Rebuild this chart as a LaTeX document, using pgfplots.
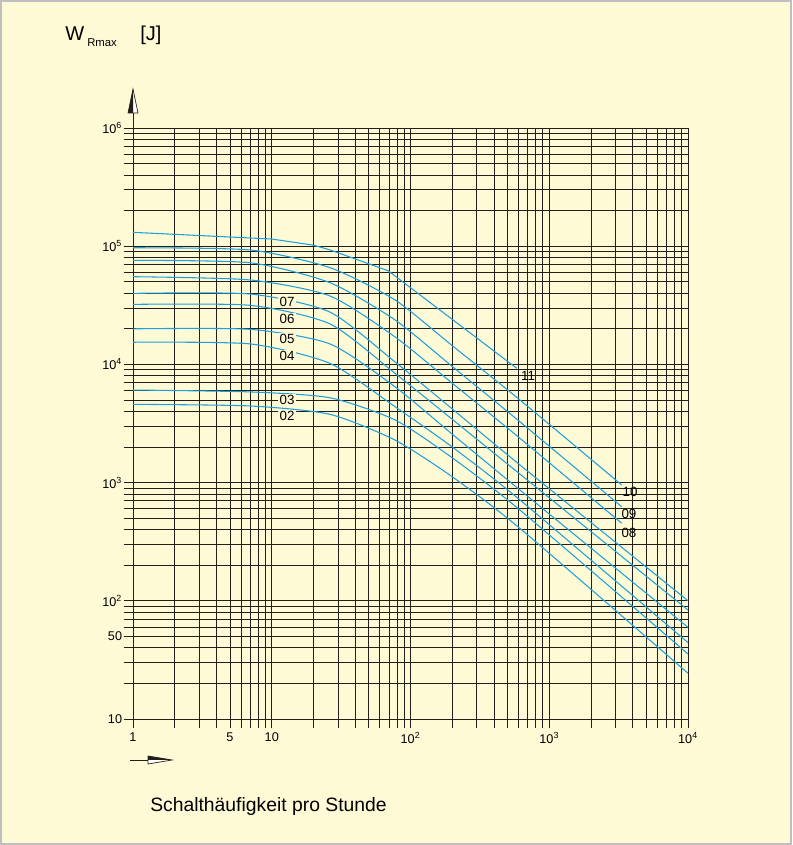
\documentclass[border=0pt]{standalone}
\usepackage{pgfplots}
\pgfplotsset{compat=1.18}
\usepackage{fontspec}
\setmainfont{Liberation Sans}
\definecolor{bg}{RGB}{255,250,214}
\definecolor{curve}{RGB}{30,160,222}
\definecolor{gridc}{RGB}{35,30,25}
\begin{document}
\begin{tikzpicture}[x=0.75pt,y=0.75pt]
\path[use as bounding box] (0,0) rectangle (792,845);
\fill[bg] (0,0) rectangle (792,845);
\draw[black!25, line width=1.5pt] (1,1) rectangle (791,844);
\begin{axis}[
  at={(99.75pt,94.5pt)}, anchor=south west,
  scale only axis, width=416.25pt, height=443.25pt,
  xmode=log, ymode=log, log basis x=10, log basis y=10,
  xmin=1, xmax=10000, ymin=10, ymax=1000000,
  xtick={1,5,10,100,1000,10000},
  xticklabels={1,5,10,10\textsuperscript{2},10\textsuperscript{3},10\textsuperscript{4}},
  minor xtick={2,3,4,6,7,8,9,20,30,40,50,60,70,80,90,200,300,400,500,600,700,800,900,2000,3000,4000,5000,6000,7000,8000,9000},
  ytick={10,50,100,1000,10000,100000,1000000},
  yticklabels={10,50,10\textsuperscript{2},10\textsuperscript{3},10\textsuperscript{4},10\textsuperscript{5},10\textsuperscript{6}},
  minor ytick={20,30,40,60,70,80,90,200,300,400,500,600,700,800,900,2000,3000,4000,5000,6000,7000,8000,9000,20000,30000,40000,50000,60000,70000,80000,90000,200000,300000,400000,500000,600000,700000,800000,900000},
  grid=both,
  major grid style={gridc, line width=0.65pt},
  minor grid style={gridc, line width=0.65pt},
  axis line style={gridc, line width=0.7pt},
  tick style={gridc, line width=0.65pt},
  tick align=outside, tick pos=left,
  major tick length=7pt, minor tick length=7pt,
  ticklabel style={font=\fontsize{9.5}{11}\selectfont, inner sep=1pt},
  xticklabel style={yshift=-2pt},
  clip=false,
]
\addplot[curve, line width=0.8pt] coordinates {(1,131000) (10,115000) (20,102000) (26.3,93000) (69,62000) (583,9270)};
\addplot[curve, line width=0.8pt, smooth, tension=0.4] coordinates {(1,97000) (7,92900) (26.3,65800) (77.3,35100) (200,14400) (615,5000) (3327,955)};
\addplot[curve, line width=0.8pt, smooth, tension=0.4] coordinates {(1,75900) (7,72400) (26.3,49100) (77.3,23800) (200,9600) (615,3270) (3327,625)};
\addplot[curve, line width=0.8pt, smooth, tension=0.4] coordinates {(1,55200) (7,51800) (26.3,37900) (77.3,17100) (200,6930) (615,2370) (3327,453)};
\addplot[curve, line width=0.8pt, smooth, tension=0.4] coordinates {(1,39900) (7,39400) (26.3,27700) (77.3,10500) (200,4200) (615,1410) (10000,100)};
\addplot[curve, line width=0.8pt, smooth, tension=0.4] coordinates {(1,32200) (7,31600) (26.3,22000) (77.3,8410) (200,3430) (615,1180) (10000,83.6)};
\addplot[curve, line width=0.8pt, smooth, tension=0.4] coordinates {(1,20000) (7,19800) (26.3,14900) (77.3,6470) (200,2570) (615,865) (10000,59.7)};
\addplot[curve, line width=0.8pt, smooth, tension=0.4] coordinates {(1,15400) (7,14900) (26.3,10200) (77.3,4390) (200,2000) (615,713) (10000,44.3)};
\addplot[curve, line width=0.8pt, smooth, tension=0.4] coordinates {(1,6070) (7,5850) (26.3,5220) (77.3,3390) (200,1620) (615,586) (10000,35.5)};
\addplot[curve, line width=0.8pt, smooth, tension=0.4] coordinates {(1,4590) (7,4450) (26.3,3780) (77.3,2290) (200,1120) (615,410) (10000,24.4)};
\begin{scope}[every node/.style={font=\fontsize{10}{12}\selectfont, inner sep=1pt}]
\node[fill=bg] at (axis cs:12.9,33700) {07};
\node[fill=bg] at (axis cs:12.9,24200) {06};
\node[fill=bg] at (axis cs:12.9,16400) {05};
\node[fill=bg] at (axis cs:12.9,11800) {04};
\node[fill=bg] at (axis cs:12.9,5000) {03};
\node[fill=bg] at (axis cs:12.9,3660) {02};
\node at (axis cs:703,7980) {11};
\node at (axis cs:3820,832) {10};
\node at (axis cs:3756,542) {09};
\node at (axis cs:3756,375) {08};
\end{scope}
\end{axis}
% y axis arrow
\draw[gridc, line width=0.7pt] (133,717) -- (133,733);
\draw[gridc, line width=0.5pt, fill=white] (133,756) -- (138,732) -- (128,732) -- cycle;
\fill[gridc] (133,756) -- (128,732) -- (133,732) -- cycle;
% x axis arrow
\draw[gridc, line width=0.7pt] (130,85) -- (150,85);
\draw[gridc, line width=0.5pt, fill=white] (172,85) -- (148,89) -- (148,81) -- cycle;
\fill[gridc] (172,85) -- (148,89) -- (148,85) -- cycle;
% titles
\node[anchor=base west, inner sep=0, font=\fontsize{15}{17}\selectfont] at (65,804) {W};
\node[anchor=base west, inner sep=0, font=\fontsize{8.5}{10}\selectfont] at (87,798) {Rmax};
\node[anchor=base west, inner sep=0, font=\fontsize{15}{17}\selectfont] at (140,804) {[J]};
\node[anchor=base west, inner sep=0, font=\fontsize{14.5}{17}\selectfont] at (150,33) {Schalthäufigkeit pro Stunde};
\end{tikzpicture}
\end{document}
